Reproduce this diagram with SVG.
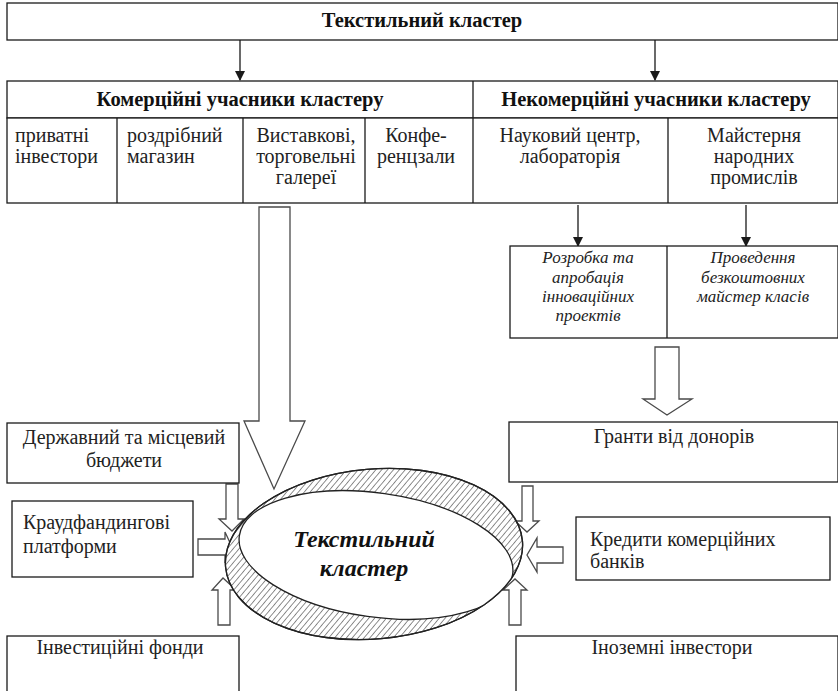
<svg xmlns="http://www.w3.org/2000/svg" width="838" height="691" viewBox="0 0 838 691">
<style>
.b{fill:#fff;stroke:#1a1a1a;stroke-width:1.3}
.l{stroke:#1a1a1a;stroke-width:1.3;fill:none}
.h{stroke:#4a4a4a;stroke-width:1.3;fill:#fff}
.t{font-family:"Liberation Serif",serif;font-size:20px;fill:#222}
.m{font-family:"Liberation Serif",serif;font-size:20px;fill:#222}
.bd{font-family:"Liberation Serif",serif;font-size:20.5px;font-weight:bold;fill:#111}
.it{font-family:"Liberation Serif",serif;font-size:17px;font-style:italic;fill:#222}
.c{text-anchor:middle}
.ct{font-family:"Liberation Serif",serif;font-size:24px;font-weight:bold;font-style:italic;fill:#111;text-anchor:middle}
</style>
<defs>
<marker id="ah" markerWidth="10" markerHeight="12" refX="9" refY="5" orient="auto" markerUnits="userSpaceOnUse">
<path d="M0,0 L10,5 L0,10 z" fill="#1a1a1a"/>
</marker>
<pattern id="hatch" width="4.5" height="4.5" patternUnits="userSpaceOnUse" patternTransform="rotate(45)">
<rect width="4.5" height="4.5" fill="#fff"/>
<line x1="0" y1="0" x2="0" y2="4.5" stroke="#333" stroke-width="1.1"/>
</pattern>
<clipPath id="oc">
<ellipse cx="374" cy="554" rx="149" ry="85" transform="rotate(-5 374 554)"/>
</clipPath>
</defs>

<g id="top">
<rect class="b" x="7" y="3" width="831" height="37"/>
<text class="bd c" x="422" y="27">Текстильний кластер</text>
</g>

<g id="connectors">
<line class="l" x1="240" y1="40" x2="240" y2="80" marker-end="url(#ah)"/>
<line class="l" x1="655" y1="40" x2="655" y2="80" marker-end="url(#ah)"/>
<line class="l" x1="578" y1="205" x2="578" y2="246" marker-end="url(#ah)"/>
<line class="l" x1="746" y1="205" x2="746" y2="246" marker-end="url(#ah)"/>
<path class="h" d="M259,207 H290 V421 H305 L274,489 L244,421 H259 Z"/>
<path class="h" d="M655,347 H679 V399 H692 L667,415 L643,399 H655 Z"/>
<path class="h" d="M226,484 H238 V519 H244 L232,531 L219,519 H226 Z"/>
<path class="h" d="M198,539 H225 V532 L232,547 L225,563 V555 H198 Z"/>
<path class="h" d="M218,625 V590 H212 L223,578 L236,590 H230 V625 Z"/>
<path class="h" d="M522,486 H533 V521 H539 L527,532 L515,521 H522 Z"/>
<path class="h" d="M563,547 H537 V538 L527,555 L537,572 V563 H563 Z"/>
<path class="h" d="M509,625 V590 H503 L515,579 L527,590 H521 V625 Z"/>
</g>

<g id="row2">
<rect class="b" x="7" y="81" width="831" height="37"/>
<line class="l" x1="473" y1="81" x2="473" y2="118"/>
<text class="bd c" x="240" y="106">Комерційні учасники кластеру</text>
<text class="bd c" x="656" y="106">Некомерційні учасники кластеру</text>
</g>

<g id="row3">
<rect class="b" x="7" y="118" width="831" height="85"/>
<line class="l" x1="117" y1="118" x2="117" y2="203"/>
<line class="l" x1="243" y1="118" x2="243" y2="203"/>
<line class="l" x1="365" y1="118" x2="365" y2="203"/>
<line class="l" x1="473" y1="118" x2="473" y2="203"/>
<line class="l" x1="668" y1="118" x2="668" y2="203"/>
<text class="t" x="15" y="142">приватні</text>
<text class="t" x="15" y="163">інвестори</text>
<text class="t" x="127" y="142">роздрібний</text>
<text class="t" x="127" y="163">магазин</text>
<text class="t c" x="306" y="142">Виставкові,</text>
<text class="t c" x="306" y="163">торговельні</text>
<text class="t c" x="306" y="184">галереї</text>
<text class="t c" x="416" y="142">Конфе-</text>
<text class="t c" x="416" y="163">ренцзали</text>
<text class="t c" x="570" y="142">Науковий центр,</text>
<text class="t c" x="570" y="163">лабораторія</text>
<text class="t c" x="754" y="142">Майстерня</text>
<text class="t c" x="754" y="163">народних</text>
<text class="t c" x="754" y="184">промислів</text>
</g>

<g id="activities">
<rect class="b" x="510" y="246" width="328" height="92"/>
<line class="l" x1="667" y1="246" x2="667" y2="338"/>
<text class="it c" x="588" y="263">Розробка та</text>
<text class="it c" x="588" y="283">апробація</text>
<text class="it c" x="588" y="302">інноваційних</text>
<text class="it c" x="588" y="321">проектів</text>
<text class="it c" x="753" y="263">Проведення</text>
<text class="it c" x="753" y="283">безкоштовних</text>
<text class="it c" x="753" y="302">майстер класів</text>
</g>

<g id="budget">
<rect class="b" x="7" y="423" width="232" height="60"/>
<text class="m c" x="124" y="444">Державний та місцевий</text>
<text class="m c" x="124" y="467">бюджети</text>
</g>

<g id="grants">
<rect class="b" x="509" y="422" width="329" height="60"/>
<text class="m c" x="674" y="443">Гранти від донорів</text>
</g>

<g id="crowd">
<rect class="b" x="12" y="501" width="181" height="76"/>
<text class="m" x="23" y="529">Краудфандингові</text>
<text class="m" x="23" y="553">платформи</text>
</g>

<g id="credits">
<rect class="b" x="576" y="517" width="254" height="63"/>
<text class="m" x="590" y="546">Кредити комерційних</text>
<text class="m" x="590" y="568">банків</text>
</g>

<g id="funds">
<rect class="b" x="7" y="636" width="232" height="60"/>
<text class="m c" x="120" y="654">Інвестиційні фонди</text>
</g>

<g id="foreign">
<rect class="b" x="516" y="636" width="322" height="60"/>
<text class="m c" x="672" y="654">Іноземні інвестори</text>
</g>

<g id="cluster">
<ellipse cx="374" cy="554" rx="149" ry="85" transform="rotate(-5 374 554)" fill="url(#hatch)" stroke="#222" stroke-width="1.3"/>
<g clip-path="url(#oc)">
<ellipse cx="376" cy="555" rx="138" ry="62" transform="rotate(8 376 555)" fill="#fff" stroke="#222" stroke-width="1.3"/>
</g>
<ellipse cx="374" cy="554" rx="149" ry="85" transform="rotate(-5 374 554)" fill="none" stroke="#222" stroke-width="1.3"/>
<text class="ct" x="364" y="547">Текстильний</text>
<text class="ct" x="364" y="576">кластер</text>
</g>
</svg>
